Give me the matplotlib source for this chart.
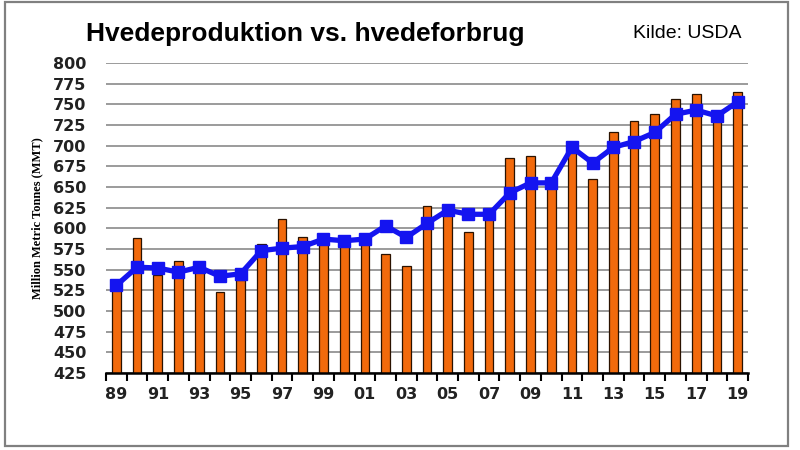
import numpy as np
import matplotlib
matplotlib.use("Agg")
import matplotlib.pyplot as plt
from matplotlib import font_manager
from matplotlib.patches import Rectangle

# data (million metric tonnes)
years = ["89", "90", "91", "92", "93", "94", "95", "96", "97", "98", "99",
         "00", "01", "02", "03", "04", "05", "06", "07", "08", "09", "10",
         "11", "12", "13", "14", "15", "16", "17", "18", "19"]
production = [529, 588, 543, 561, 557, 523, 537, 581, 611, 590, 586,
              582, 583, 569, 555, 627, 620, 596, 612, 685, 688, 651,
              697, 660, 717, 730, 738, 756, 763, 731, 765]
consumption = [531, 553, 552, 547, 553, 542, 545, 573, 576, 578, 587,
               585, 587, 603, 589, 606, 622, 617, 617, 643, 655, 655,
               698, 679, 698, 705, 716, 738, 743, 736, 753]
yticks = list(range(425, 801, 25))

title = "Hvedeproduktion vs. hvedeforbrug"
source = "Kilde: USDA"
ylabel = "Million Metric Tonnes (MMT)"

# narrow title font if we have it
try:
    font_manager.findfont("Liberation Sans Narrow", fallback_to_default=False)
    title_font = "Liberation Sans Narrow"
    tsize, ssize = 21, 15
except Exception:
    title_font = "Liberation Sans"
    tsize, ssize = 19, 14

fig = plt.figure(figsize=(8, 4.5), dpi=100)
fig.patch.set_facecolor("white")
# grey frame round the whole picture
fig.patches.append(Rectangle((5 / 800, 4 / 450), 783 / 800, 444 / 450,
                             transform=fig.transFigure, fill=False,
                             edgecolor="#808080", linewidth=1.6))

ax = fig.add_axes([106 / 800, 1 - 373 / 450, 642 / 800, 310 / 450])
x = np.arange(len(years))

ax.bar(x, production, width=0.42, color="#F26A0C",
       edgecolor="#2a1200", linewidth=0.9, zorder=2)
ax.plot(x, consumption, color="#1414F0", linewidth=3.8, marker="s",
        markersize=8, zorder=3)

ax.set_xlim(-0.5, len(years) - 0.5)
ax.set_ylim(425, 800)
ax.set_yticks(yticks)
ax.set_yticklabels([str(v) for v in yticks], fontsize=11.5, fontweight="bold",
                   color="#222222")
ax.tick_params(axis="y", length=0, pad=14)
ax.yaxis.grid(True, color="#8a8a8a", linewidth=1.2, zorder=0)
ax.set_axisbelow(True)

ax.set_xticks(x[::2])
ax.set_xticklabels(years[::2], fontsize=11.5, fontweight="bold", color="#222222")
ax.set_xticks(np.arange(len(years) + 1) - 0.5, minor=True)
ax.tick_params(axis="x", which="major", length=0, pad=10)
ax.tick_params(axis="x", which="minor", length=6, width=1.5, color="black",
               direction="out")

for side in ["left", "right", "top"]:
    ax.spines[side].set_visible(False)
ax.spines["bottom"].set_linewidth(1.8)
ax.spines["bottom"].set_color("black")

fig.text(305 / 800, 1 - 34 / 450, title, ha="center", va="center",
         fontsize=tsize, fontweight="bold", family=title_font)
fig.text(687 / 800, 1 - 34 / 450, source, ha="center", va="center",
         fontsize=ssize, family=title_font)
fig.text(37 / 800, 1 - 218 / 450, ylabel, rotation=90, ha="center",
         va="center", fontsize=9, fontweight="bold",
         family=["Liberation Serif", "DejaVu Serif"])

fig.savefig("out.png", dpi=100)
